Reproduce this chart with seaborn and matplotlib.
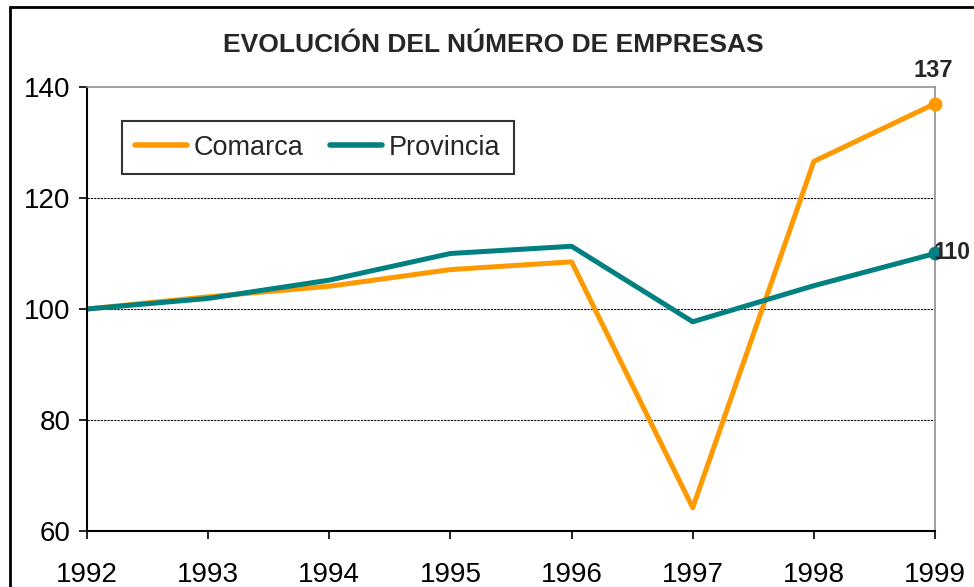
import matplotlib
matplotlib.use("Agg")
import matplotlib.pyplot as plt
import seaborn as sns
import pandas as pd
from matplotlib.patches import Rectangle

years = [1992, 1993, 1994, 1995, 1996, 1997, 1998, 1999]
comarca = [100, 102.2, 104.1, 107.1, 108.5, 64.2, 126.6, 137]
provincia = [100, 101.9, 105.2, 110.0, 111.3, 97.7, 104.2, 110]

df = pd.DataFrame({
    "year": years * 2,
    "value": comarca + provincia,
    "serie": ["Comarca"] * len(years) + ["Provincia"] * len(years),
})

sns.set_style("white")
plt.rcParams["font.family"] = ["Liberation Sans", "DejaVu Sans"]

fig = plt.figure(figsize=(9.74, 5.87), dpi=100)
ax = fig.add_axes([87 / 974, 1 - 531 / 587, 848 / 974, 444 / 587])

colors = {"Comarca": "#FF9900", "Provincia": "#008080"}
sns.lineplot(data=df, x="year", y="value", hue="serie", palette=colors,
             linewidth=3.6, ax=ax, legend=True)

# end markers + labels
ax.plot(years[-1], comarca[-1], "o", color=colors["Comarca"], ms=9, clip_on=False, zorder=5)
ax.plot(years[-1], provincia[-1], "o", color=colors["Provincia"], ms=9, clip_on=False, zorder=5)
ax.annotate(f"{comarca[-1]:.0f}", (years[-1], comarca[-1]), xytext=(-1, 24),
            textcoords="offset points", ha="center", va="center",
            fontsize=17, fontweight="bold", annotation_clip=False)
ax.annotate(f"{provincia[-1]:.0f}", (years[-1], provincia[-1]), xytext=(-1, 1),
            textcoords="offset points", ha="left", va="center",
            fontsize=16.5, fontweight="bold", annotation_clip=False, zorder=6)

ax.set_xlim(1992, 1999)
ax.set_ylim(60, 140)
ax.set_xticks(years)
ax.set_yticks([60, 80, 100, 120, 140])
ax.set_xlabel("")
ax.set_ylabel("")
ax.tick_params(axis="both", direction="out", length=6, width=1.2, labelsize=20,
               colors="black", bottom=True, left=True)
ax.tick_params(axis="x", pad=16)
ax.tick_params(axis="y", pad=6)

for y in [80, 100, 120]:
    ax.axhline(y, color="black", linestyle=(0, (2, 1)), linewidth=0.8, zorder=0)

ax.spines["left"].set_color("black")
ax.spines["bottom"].set_color("black")
ax.spines["left"].set_linewidth(1.5)
ax.spines["bottom"].set_linewidth(1.5)
ax.spines["top"].set_color("#909090")
ax.spines["right"].set_color("#909090")
ax.spines["top"].set_linewidth(1.2)
ax.spines["right"].set_linewidth(1.2)

leg = ax.legend(loc="upper left", bbox_to_anchor=(0.041, 0.923), ncol=2,
                frameon=True, fancybox=False, edgecolor="black", fontsize=19.5,
                handlelength=1.9, handletextpad=0.25, columnspacing=1.0,
                borderpad=0.5, borderaxespad=0, title=None)
leg.get_frame().set_linewidth(1.5)
for line in leg.get_lines():
    line.set_linewidth(4)

fig.text(493 / 974, 1 - 45 / 587, "EVOLUCIÓN DEL NÚMERO DE EMPRESAS",
         ha="center", va="center", fontsize=19, fontweight="bold")

fig.patches.append(Rectangle((10 / 974, -0.2), 2, 1 - 7 / 587 + 0.2, fill=False,
                             edgecolor="black", linewidth=2,
                             transform=fig.transFigure, figure=fig))

fig.savefig("out.png", dpi=100)
